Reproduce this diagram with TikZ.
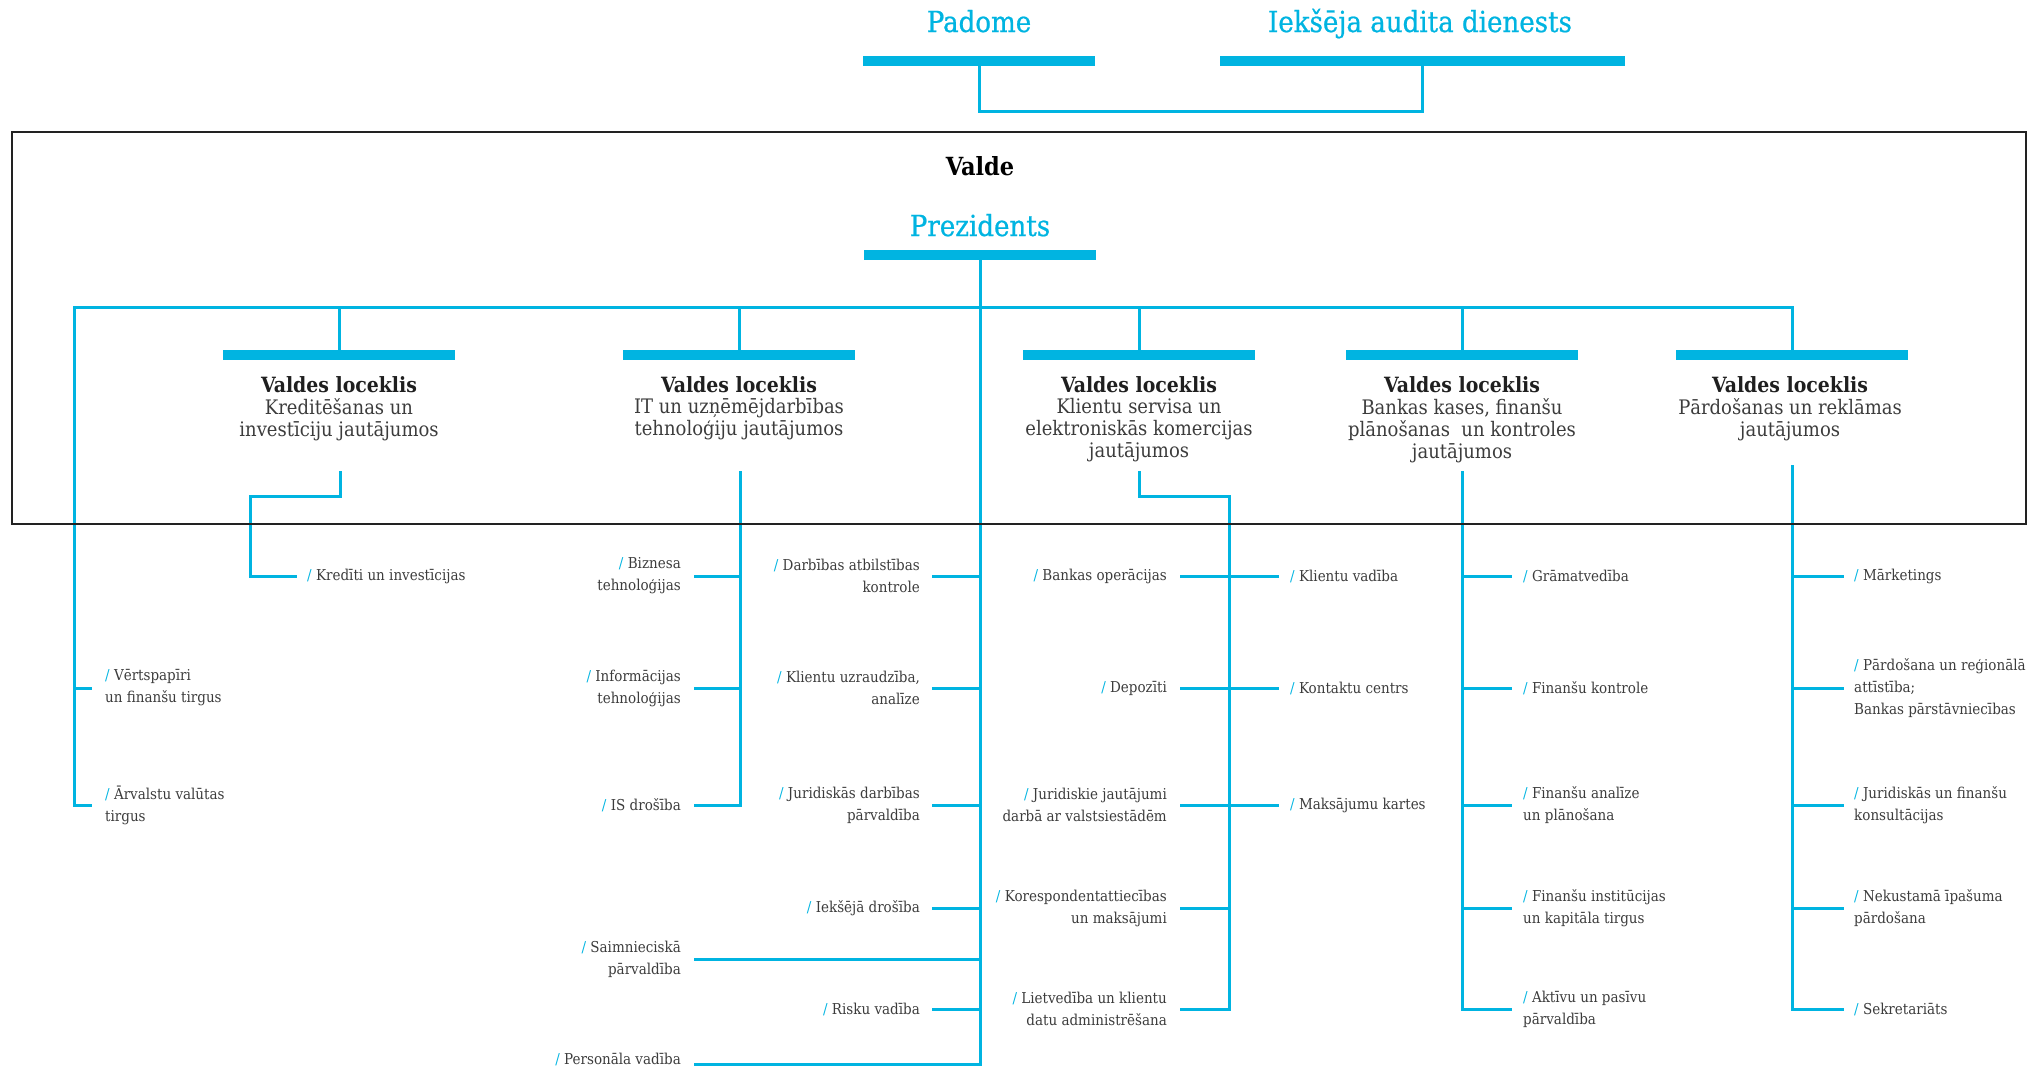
\documentclass[tikz,border=0pt]{standalone}
\usepackage{fontspec}
\setmainfont{DejaVu Serif Condensed}
\newfontfamily\headfont{DejaVu Serif Condensed}[FakeBold=0.7]
\definecolor{brand}{HTML}{00B4E1}
\definecolor{txt}{HTML}{3C3C3C}
\definecolor{framecol}{HTML}{222222}
\newcommand{\leafslash}{{\color{brand}/}\ }
\tikzset{
 conn/.style={draw=brand, line width=3pt, line cap=rect},
 bar/.style={fill=brand, draw=none, inner sep=0, minimum height=10pt},
 head/.style={text=brand, font=\headfont\fontsize{29}{34}\selectfont, inner sep=0, anchor=base},
 boss/.style={text=black, font=\bfseries\fontsize{25}{30}\selectfont, inner sep=0, anchor=base},
 memtitle/.style={text=black!88, font=\bfseries\fontsize{21}{24}\selectfont, inner sep=0, anchor=base},
 memsub/.style={text=txt, font=\fontsize{20}{22}\selectfont, inner sep=0, anchor=north, align=center},
 leafL/.style={text=txt, font=\fontsize{15}{22}\selectfont, inner sep=0, anchor=west, align=left},
 leafR/.style={text=txt, font=\fontsize{15}{22}\selectfont, inner sep=0, anchor=east, align=right},
}
\begin{document}
\begin{tikzpicture}[x=1pt,y=-1pt]
\useasboundingbox (0,0) rectangle (2029,1068);

% top level
\node[head] (padome) at (979,32) {Padome};
\node[head] (audit) at (1420,32) {Iekšēja audita dienests};
\node[bar, minimum width=232pt] (padbar) at (979,61) {};
\node[bar, minimum width=405pt] (iabar) at (1422,61) {};
\coordinate (uL) at (979,111);
\draw[conn] (padbar.south) -- (uL) -| (iabar.south);

% board
\node[boss] (valde) at (980,175) {Valde};
\node[head] (prez) at (980,236) {Prezidents};
\node[bar, minimum width=232pt] (prezbar) at (980,255) {};

% members
\node[bar, minimum width=232pt] (mbar1) at (339,355) {};
\node[bar, minimum width=232pt] (mbar2) at (739,355) {};
\node[bar, minimum width=232pt] (mbar3) at (1139,355) {};
\node[bar, minimum width=232pt] (mbar4) at (1462,355) {};
\node[bar, minimum width=232pt] (mbar5) at (1792,355) {};

\node[memtitle] (t1) at (339,392) {Valdes loceklis};
\node[memsub] (s1) at (339,398) {Kreditēšanas un\\investīciju jautājumos};
\node[memtitle] (t2) at (739,392) {Valdes loceklis};
\node[memsub] (s2) at (739,398) {IT un uzņēmējdarbības\\tehnoloģiju jautājumos};
\node[memtitle] (t3) at (1139,392) {Valdes loceklis};
\node[memsub] (s3) at (1139,398) {Klientu servisa un\\elektroniskās komercijas\\jautājumos};
\node[memtitle] (t4) at (1462,392) {Valdes loceklis};
\node[memsub] (s4) at (1462,398) {Bankas kases, finanšu\\plānošanas~ un kontroles\\jautājumos};
\node[memtitle] (t5) at (1790,392) {Valdes loceklis};
\node[memsub] (s5) at (1790,398) {Pārdošanas un reklāmas\\jautājumos};

% bus
\coordinate (busL) at (74,307);
\coordinate (busR) at (1792,307);
\coordinate (aEnd) at (74,805);
\coordinate (dEnd) at (980,1064);
\draw[conn] (mbar5.north) -- (busR) -- (busL) -- (aEnd);
\draw[conn] (mbar1.north) -- (mbar1.north |- busL);
\draw[conn] (mbar2.north) -- (mbar2.north |- busL);
\draw[conn] (mbar3.north) -- (mbar3.north |- busL);
\draw[conn] (mbar4.north) -- (mbar4.north |- busL);
\draw[conn] (prezbar.south) -- (dEnd);

% column A
\node[leafL] (a1) at (105,688) {\leafslash Vērtspapīri\\un finanšu tirgus};
\node[leafL] (a2) at (105,805) {\leafslash Ārvalstu valūtas\\tirgus};
\foreach \n in {a1,a2} \draw[conn] (\n.west -| busL) -- ([xshift=-15pt]\n.west);

% column B
\coordinate (m1low) at (340,472);
\coordinate (bC) at (250,576);
\node[leafL] (b1) at (307,576) {\leafslash Kredīti un investīcijas};
\draw[conn] (m1low) -- ++(0,24) -| (bC) -- ([xshift=-12pt]b1.west);

% column C
\coordinate (m2low) at (740,472);
\coordinate (cEnd) at (740,805);
\draw[conn] (m2low) -- (cEnd);
\node[leafR] (c1) at (681,576) {\leafslash Biznesa\\tehnoloģijas};
\node[leafR] (c2) at (681,688) {\leafslash Informācijas\\tehnoloģijas};
\node[leafR] (c3) at (681,805) {\leafslash IS drošība};
\foreach \n in {c1,c2,c3} \draw[conn] (\n.east -| m2low) -- ([xshift=14pt]\n.east);

% column D (central)
\node[leafR] (d1) at (920,576) {\leafslash Darbības atbilstības\\kontrole};
\node[leafR] (d2) at (920,688) {\leafslash Klientu uzraudzība,\\analīze};
\node[leafR] (d3) at (920,805) {\leafslash Juridiskās darbības\\pārvaldība};
\node[leafR] (d4) at (920,908) {\leafslash Iekšējā drošība};
\node[leafR] (d5) at (920,1009) {\leafslash Risku vadība};
\foreach \n in {d1,d2,d3,d4,d5} \draw[conn] (\n.east -| dEnd) -- ([xshift=13pt]\n.east);
\node[leafR] (d6) at (681,959) {\leafslash Saimnieciskā\\pārvaldība};
\node[leafR] (d7) at (681,1059) {\leafslash Personāla vadība};
\draw[conn] (d6.east -| dEnd) -- ([xshift=14pt]d6.east);
\draw[conn] (dEnd) -- ([xshift=14pt]d7.east |- dEnd);

% column E
\coordinate (m3low) at (1139,472);
\coordinate (eEnd) at (1229,1009);
\draw[conn] (m3low) -- ++(0,24) -| (eEnd);
\node[leafR] (el1) at (1167,576) {\leafslash Bankas operācijas};
\node[leafR] (el2) at (1167,688) {\leafslash Depozīti};
\node[leafR] (el3) at (1167,805) {\leafslash Juridiskie jautājumi\\darbā ar valstsiestādēm};
\node[leafR] (el4) at (1167,908) {\leafslash Korespondentattiecības\\un maksājumi};
\node[leafR] (el5) at (1167,1009) {\leafslash Lietvedība un klientu\\datu administrēšana};
\node[leafL] (er1) at (1290,576) {\leafslash Klientu vadība};
\node[leafL] (er2) at (1290,688) {\leafslash Kontaktu centrs};
\node[leafL] (er3) at (1290,805) {\leafslash Maksājumu kartes};
\draw[conn] ([xshift=14pt]el1.east) -- ([xshift=-13pt]er1.west);
\draw[conn] ([xshift=14pt]el2.east) -- ([xshift=-13pt]er2.west);
\draw[conn] ([xshift=14pt]el3.east) -- ([xshift=-13pt]er3.west);
\draw[conn] ([xshift=14pt]el4.east) -- (el4.east -| eEnd);
\draw[conn] ([xshift=14pt]el5.east) -- (el5.east -| eEnd);

% column F
\coordinate (m4low) at (1462,472);
\coordinate (fEnd) at (1462,1009);
\draw[conn] (m4low) -- (fEnd);
\node[leafL] (f1) at (1523,576) {\leafslash Grāmatvedība};
\node[leafL] (f2) at (1523,688) {\leafslash Finanšu kontrole};
\node[leafL] (f3) at (1523,805) {\leafslash Finanšu analīze\\un plānošana};
\node[leafL] (f4) at (1523,908) {\leafslash Finanšu institūcijas\\un kapitāla tirgus};
\node[leafL] (f5) at (1523,1009) {\leafslash Aktīvu un pasīvu\\pārvaldība};
\foreach \n in {f1,f2,f3,f4,f5} \draw[conn] (\n.west -| m4low) -- ([xshift=-13pt]\n.west);

% column G
\coordinate (m5low) at (1792,466);
\coordinate (gEnd) at (1792,1009);
\draw[conn] (m5low) -- (gEnd);
\node[leafL] (g1) at (1854,576) {\leafslash Mārketings};
\node[leafL] (g2) at (1854,688) {\leafslash Pārdošana un reģionālā\\attīstība;\\Bankas pārstāvniecības};
\node[leafL] (g3) at (1854,805) {\leafslash Juridiskās un finanšu\\konsultācijas};
\node[leafL] (g4) at (1854,908) {\leafslash Nekustamā īpašuma\\pārdošana};
\node[leafL] (g5) at (1854,1009) {\leafslash Sekretariāts};
\foreach \n in {g1,g2,g3,g4,g5} \draw[conn] (\n.west -| m5low) -- ([xshift=-12pt]\n.west);

% Valde frame
\node[draw=framecol, line width=2.5pt, inner sep=0, minimum width=2014pt, minimum height=392pt] (valdebox) at (1019,328) {};
\end{tikzpicture}
\end{document}
